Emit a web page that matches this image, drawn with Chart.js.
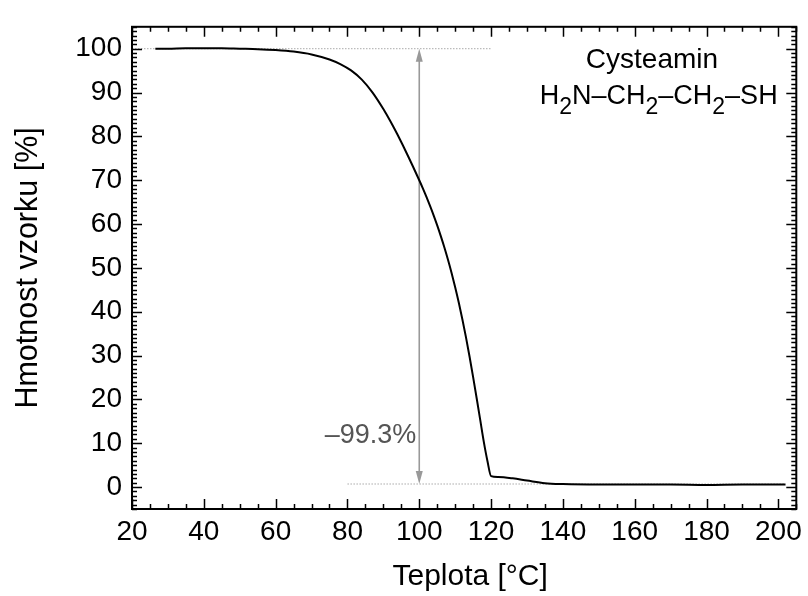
<!DOCTYPE html>
<html>
<head>
<meta charset="utf-8">
<script src="https://cdn.jsdelivr.net/npm/chart.js@4.4.0/dist/chart.umd.min.js"></script>
<style>
  html, body { margin: 0; padding: 0; background: #fff; }
  #wrap { width: 808px; height: 596px; }
</style>
</head>
<body>
<div id="wrap"><canvas id="tga"></canvas></div>
<script>
// TGA curve of cysteamine
const temperature = [26.5, 30, 35, 40, 45, 50, 55, 60, 65, 70, 75, 78, 81, 84, 87, 90, 92, 94, 97,
  100, 101, 102, 103, 104, 105, 106, 107, 108, 109, 110, 111, 112, 113, 114, 115, 116, 117, 118, 119,
  120, 122, 126, 130, 135, 140, 150, 160, 170, 180, 190, 202];
const mass = [100.0, 100.0, 100.1, 100.1, 100.1, 100.0, 99.9, 99.7, 99.35, 98.7, 97.55, 96.5, 95.05,
  92.95, 90.0, 86.25, 83.4, 80.3, 75.3,
  70.0, 68.15, 66.2, 64.15, 62.0, 59.7, 57.25, 54.65, 51.85, 48.85, 45.6, 42.1, 38.3, 34.2, 29.8, 25.1,
  20.2, 15.2, 10.2, 5.9,
  2.5, 2.3, 2.0, 1.5, 0.9, 0.7, 0.6, 0.6, 0.6, 0.5, 0.6, 0.6];

const xTicks = [20, 40, 60, 80, 100, 120, 140, 160, 180, 200];
const yTicks = [0, 10, 20, 30, 40, 50, 60, 70, 80, 90, 100];

// start / end level of the mass loss and where the dotted guides run
const startLevel = 100;
const endLevel = 0.7;
const startGuideX = [20, 120];
const endGuideX = [80, 202];
const arrowAt = 100;
const lossText = '\u201399.3%';
const sampleName = 'Cysteamin';
const formulaParts = [['H', 0], ['2', 1], ['N\u2013CH', 0], ['2', 1], ['\u2013CH', 0], ['2', 1], ['\u2013SH', 0]];
const xTitle = 'Teplota [°C]';

const FONT = "'Liberation Sans', Arial, sans-serif";

const extras = {
  id: 'extras',
  beforeDatasetsDraw(chart) {
    const { ctx, scales: { x, y } } = chart;
    const ax = x.getPixelForValue(arrowAt);
    const y1 = y.getPixelForValue(startLevel);
    const y2 = y.getPixelForValue(endLevel);
    ctx.save();
    ctx.strokeStyle = '#999';
    ctx.fillStyle = '#999';
    ctx.lineWidth = 1.6;
    ctx.beginPath();
    ctx.moveTo(ax, y1 + 10);
    ctx.lineTo(ax, y2 - 10);
    ctx.stroke();
    // heads
    ctx.beginPath();
    ctx.moveTo(ax, y1); ctx.lineTo(ax - 3.5, y1 + 13); ctx.lineTo(ax + 3.5, y1 + 13); ctx.closePath();
    ctx.fill();
    ctx.beginPath();
    ctx.moveTo(ax, y2); ctx.lineTo(ax - 3.5, y2 - 13); ctx.lineTo(ax + 3.5, y2 - 13); ctx.closePath();
    ctx.fill();
    ctx.restore();
  },
  afterDraw(chart) {
    const { ctx, chartArea: a, scales: { x, y } } = chart;
    ctx.save();
    // frame
    ctx.strokeStyle = '#000';
    ctx.lineWidth = 2;
    ctx.strokeRect(a.left, a.top, a.right - a.left, a.bottom - a.top);
    // inward ticks on all sides
    ctx.lineWidth = 1.5;
    ctx.beginPath();
    for (let v = 20; v <= 205; v += 5) {
      const px = Math.round(x.getPixelForValue(v)) + 0.5;
      const len = v % 20 === 0 ? 10 : 5;
      ctx.moveTo(px, a.bottom); ctx.lineTo(px, a.bottom - len);
      ctx.moveTo(px, a.top); ctx.lineTo(px, a.top + len);
    }
    for (let v = -5; v <= 105; v += 1) {
      const py = Math.round(y.getPixelForValue(v)) + 0.5;
      const len = v % 10 === 0 ? 10 : 5;
      ctx.moveTo(a.left, py); ctx.lineTo(a.left + len, py);
      ctx.moveTo(a.right, py); ctx.lineTo(a.right - len, py);
    }
    ctx.stroke();

    // x axis title
    ctx.fillStyle = '#000';
    ctx.font = '30px ' + FONT;
    ctx.textAlign = 'center';
    ctx.textBaseline = 'middle';
    ctx.fillText(xTitle, (a.left + a.right) / 2 + 6, 577);

    // loss label
    ctx.textBaseline = 'alphabetic';
    ctx.fillStyle = '#555';
    ctx.font = '27px ' + FONT;
    ctx.textAlign = 'right';
    ctx.fillText(lossText, x.getPixelForValue(arrowAt) - 3, y.getPixelForValue(10));

    // sample name
    ctx.fillStyle = '#000';
    ctx.font = '28px ' + FONT;
    ctx.textAlign = 'center';
    ctx.fillText(sampleName, x.getPixelForValue(164.8), y.getPixelForValue(95.5));

    // formula with subscripts, right aligned
    ctx.textAlign = 'left';
    const mainFont = '27px ' + FONT;
    const subFont = '23px ' + FONT;
    let total = 0;
    formulaParts.forEach(([t, sub]) => {
      ctx.font = sub ? subFont : mainFont;
      total += ctx.measureText(t).width;
    });
    let cx = x.getPixelForValue(199.8) - total;
    const base = y.getPixelForValue(87.5);
    formulaParts.forEach(([t, sub]) => {
      ctx.font = sub ? subFont : mainFont;
      ctx.fillText(t, cx, sub ? base + 10 : base);
      cx += ctx.measureText(t).width;
    });
    ctx.restore();
  }
};

new Chart(document.getElementById('tga'), {
  type: 'scatter',
  data: {
    datasets: [
      {
        data: temperature.map((t, i) => ({ x: t, y: mass[i] })),
        showLine: true,
        borderColor: '#000',
        borderWidth: 2,
        pointRadius: 0,
        cubicInterpolationMode: 'monotone',
        order: 0
      },
      {
        data: startGuideX.map(t => ({ x: t, y: startLevel })),
        showLine: true,
        borderColor: '#aaa',
        borderWidth: 1,
        borderDash: [1.5, 1.5],
        pointRadius: 0,
        order: 1
      },
      {
        data: endGuideX.map(t => ({ x: t, y: endLevel })),
        showLine: true,
        borderColor: '#aaa',
        borderWidth: 1,
        borderDash: [1.5, 1.5],
        pointRadius: 0,
        order: 1
      }
    ]
  },
  options: {
    responsive: true,
    maintainAspectRatio: false,
    animation: false,
    layout: { padding: { top: 16, right: 11, left: 0, bottom: 0 } },
    plugins: { legend: { display: false }, tooltip: { enabled: false } },
    scales: {
      x: {
        type: 'linear',
        min: 20,
        max: 205,
        afterFit: s => { s.height = 87; },
        afterBuildTicks: s => { s.ticks = xTicks.map(v => ({ value: v })); },
        grid: { display: false, drawTicks: false },
        border: { display: false },
        ticks: { color: '#000', font: { size: 28, family: FONT }, padding: 6, maxRotation: 0, autoSkip: false },
        title: { display: false }
      },
      y: {
        type: 'linear',
        min: -5,
        max: 105,
        afterFit: s => { s.width = 132; },
        afterBuildTicks: s => { s.ticks = yTicks.map(v => ({ value: v })); },
        grid: { display: false, drawTicks: false },
        border: { display: false },
        ticks: { color: '#000', font: { size: 28, family: FONT }, padding: 10, autoSkip: false },
        title: { display: true, text: 'Hmotnost vzorku [%]', color: '#000', font: { size: 30.5, family: FONT }, padding: { top: 10, bottom: 0 } }
      }
    }
  },
  plugins: [extras]
});
</script>
</body>
</html>
